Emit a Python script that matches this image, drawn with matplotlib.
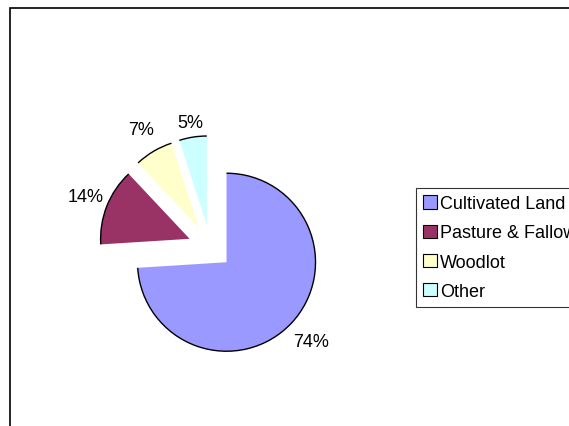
import numpy as np
import matplotlib
matplotlib.use('Agg')
from matplotlib import pyplot as plt
from matplotlib.patches import Arc, Rectangle

plt.rcParams['font.family'] = ['Liberation Sans', 'DejaVu Sans']

categorias = ['Cultivated Land', 'Pasture & Fallow', 'Woodlot', 'Other']
valores = [74, 14, 7, 5]
cores = ['#9999FF', '#993366', '#FFFFCC', '#CCFFFF']

# distancia de cada rotulo ao centro da fatia (em raios)
dist_rotulo = [1.31, 1.26, 1.27, 1.15]

W, H = 569, 427
fig = plt.figure(figsize=(W / 100, H / 100), dpi=100)
ax = fig.add_axes([0, 0, 1, 1])

# moldura do grafico (so aparecem esquerda e topo)
ax.add_patch(Rectangle((9.5, -20), W + 40, H - 8.5 + 20, fill=False,
                       edgecolor='black', linewidth=1.2))

raio = 89
centro = (210.3, H - 248)
# no matplotlib o explode e em unidades de dado, nao em fracao do raio
fatias, _ = ax.pie(valores, colors=cores, startangle=90, counterclock=False,
                   explode=[0.25 * raio] * len(valores), radius=raio, center=centro,
                   wedgeprops=dict(linewidth=0), frame=True)
ax.set_xlim(0, W)
ax.set_ylim(0, H)
ax.set_aspect('equal')
ax.axis('off')

for f, v, d in zip(fatias, valores, dist_rotulo):
    # contorno so no arco, como no Excel
    ax.add_patch(Arc(f.center, 2 * raio, 2 * raio, theta1=f.theta1, theta2=f.theta2,
                     color='black', linewidth=1.0))
    meio = np.deg2rad((f.theta1 + f.theta2) / 2)
    x = f.center[0] + d * raio * np.cos(meio)
    y = f.center[1] + d * raio * np.sin(meio)
    ax.text(x, y + 1, f'{v}%', fontsize=13, ha='center', va='center')

leg = ax.legend(fatias, categorias, loc='upper left',
                bbox_to_anchor=(416 / W, 1 - 189 / H), bbox_transform=fig.transFigure,
                fontsize=13, frameon=True, fancybox=False, shadow=False,
                handlelength=0.75, handleheight=0.75, handletextpad=0.2,
                labelspacing=0.68, borderpad=0.4, borderaxespad=0)
leg.get_frame().set_edgecolor('black')
leg.get_frame().set_linewidth(0.8)
for h in leg.legend_handles:
    h.set_edgecolor('black')
    h.set_linewidth(0.8)

plt.savefig('out.png', dpi=100)
